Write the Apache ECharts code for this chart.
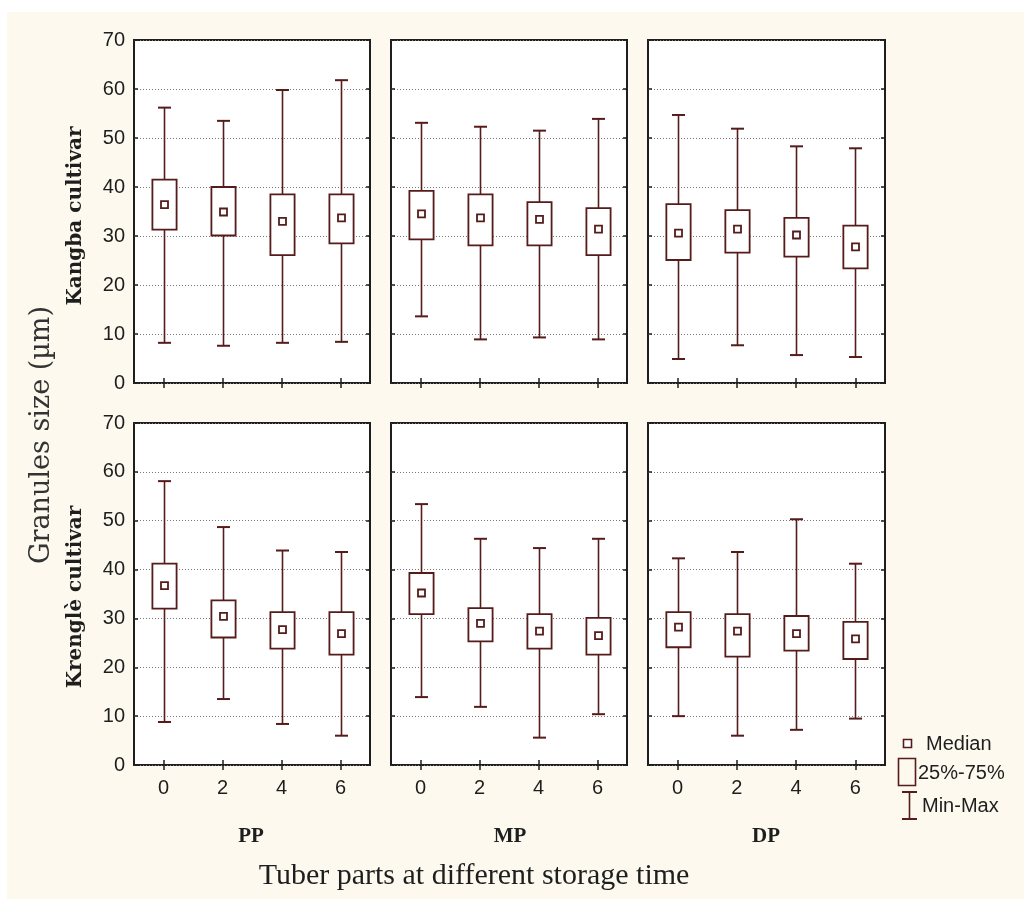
<!DOCTYPE html>
<html>
<head>
<meta charset="utf-8">
<script src="https://cdn.jsdelivr.net/npm/echarts@6/dist/echarts.min.js"></script>
<style>
html,body{margin:0;padding:0;background:#ffffff;}
#chart{width:1024px;height:899px;}
</style>
</head>
<body>
<div id="chart"></div>
<script>
// Storage time categories (x axis tick labels)
const storageTimes = ['0', '2', '4', '6'];
// Y axis ticks
const yMin = 0, yMax = 70, yStep = 10;
// Panel labels
const partLabels = ['PP', 'MP', 'DP'];
const cultivarLabels = ['Kangba cultivar', 'Krenglè cultivar'];
const yTitle = 'Granules size (µm)';
const xTitle = 'Tuber parts at different storage time';
const legendLabels = ['Median', '25%-75%', 'Min-Max'];

// Each row: [min, Q1 (25%), median, Q3 (75%), max] for storage times 0,2,4,6
const kangbaPP = [[8.2, 31.3, 36.4, 41.5, 56.2], [7.6, 30.1, 34.9, 40.0, 53.5], [8.2, 26.1, 33.0, 38.5, 59.8], [8.4, 28.5, 33.7, 38.5, 61.8]];
const kangbaMP = [[13.6, 29.3, 34.5, 39.2, 53.1], [8.9, 28.1, 33.7, 38.5, 52.3], [9.3, 28.1, 33.4, 36.9, 51.5], [8.9, 26.1, 31.4, 35.7, 53.9]];
const kangbaDP = [[4.9, 25.1, 30.6, 36.5, 54.7], [7.7, 26.6, 31.4, 35.3, 51.9], [5.7, 25.8, 30.2, 33.7, 48.3], [5.3, 23.4, 27.8, 32.1, 47.9]];
const krenglePP = [[8.8, 32.0, 36.7, 41.2, 58.1], [13.5, 26.1, 30.4, 33.7, 48.7], [8.4, 23.8, 27.7, 31.3, 43.9], [6.0, 22.6, 26.9, 31.3, 43.6]];
const krengleMP = [[13.9, 30.9, 35.2, 39.3, 53.4], [11.9, 25.3, 29.0, 32.1, 46.3], [5.6, 23.8, 27.4, 30.9, 44.4], [10.4, 22.6, 26.5, 30.1, 46.3]];
const krengleDP = [[10.0, 24.1, 28.2, 31.3, 42.3], [6.0, 22.2, 27.4, 30.9, 43.6], [7.2, 23.4, 26.9, 30.5, 50.3], [9.5, 21.7, 25.8, 29.3, 41.2]];

const panels = [kangbaPP, kangbaMP, kangbaDP, krenglePP, krengleMP, krengleDP];

// ---- styling / layout ----
const BOX_COLOR = '#561b1b';
const FRAME_COLOR = '#1e1e1e';
const TEXT_COLOR = '#1e1e1e';
const CREAM = '#fdf9ee';
const TICK_FONT = '"Liberation Sans", Arial, sans-serif';
const TICK_SIZE = 20;
const colLefts = [134, 391, 648];
const colWidths = [236, 236, 237];
const rowTops = [40, 423];
const rowHeights = [343, 342];

const grids = [], xAxes = [], yAxes = [], series = [];

function renderBox(params, api) {
  const k = api.value(0);
  const pMax = api.coord([k, api.value(5)]);
  const pMin = api.coord([k, api.value(1)]);
  const pQ1 = api.coord([k, api.value(2)]);
  const pMed = api.coord([k, api.value(3)]);
  const pQ3 = api.coord([k, api.value(4)]);
  const band = api.size([1, 0])[0];
  const cx = Math.round(pMax[0]) + 0.5;
  const bw = band * 0.41;
  const cw = band * 0.22;
  const ms = 7;
  const st = { stroke: BOX_COLOR, lineWidth: 1.6, fill: null };
  return {
    type: 'group',
    children: [
      { type: 'line', shape: { x1: cx, y1: pMax[1], x2: cx, y2: pMin[1] }, style: st },
      { type: 'line', shape: { x1: cx - cw / 2, y1: pMax[1], x2: cx + cw / 2, y2: pMax[1] }, style: { stroke: BOX_COLOR, lineWidth: 2 } },
      { type: 'line', shape: { x1: cx - cw / 2, y1: pMin[1], x2: cx + cw / 2, y2: pMin[1] }, style: { stroke: BOX_COLOR, lineWidth: 2 } },
      { type: 'rect', shape: { x: cx - bw / 2, y: pQ3[1], width: bw, height: pQ1[1] - pQ3[1] }, style: { stroke: BOX_COLOR, lineWidth: 1.8, fill: '#ffffff' } },
      { type: 'rect', shape: { x: cx - ms / 2, y: pMed[1] - ms / 2, width: ms, height: ms }, style: { stroke: BOX_COLOR, lineWidth: 1.8, fill: '#ffffff' } }
    ]
  };
}

for (let r = 0; r < 2; r++) {
  for (let c = 0; c < 3; c++) {
    const gi = r * 3 + c;
    grids.push({
      left: colLefts[c], top: rowTops[r], width: colWidths[c], height: rowHeights[r],
      show: true, backgroundColor: '#ffffff', borderColor: FRAME_COLOR, borderWidth: 2
    });
    const xBase = {
      gridIndex: gi, type: 'category', data: storageTimes, boundaryGap: true,
      axisLine: { show: false },
      axisTick: { show: true, inside: true, length: 5, alignWithLabel: true, lineStyle: { color: FRAME_COLOR, width: 1.5 } },
      splitLine: { show: false }
    };
    xAxes.push(Object.assign({}, xBase, {
      position: 'bottom',
      axisLabel: { show: r === 1, color: TEXT_COLOR, fontFamily: TICK_FONT, fontSize: TICK_SIZE, margin: 13 }
    }));
    xAxes.push(Object.assign({}, xBase, { position: 'top', axisLabel: { show: false } }));
    const yBase = {
      gridIndex: gi, type: 'value', min: yMin, max: yMax, interval: yStep,
      axisLine: { show: false },
      axisTick: { show: true, inside: true, length: 4, lineStyle: { color: FRAME_COLOR, width: 1.5 } }
    };
    yAxes.push(Object.assign({}, yBase, {
      position: 'left',
      axisLabel: { show: c === 0, color: TEXT_COLOR, fontFamily: TICK_FONT, fontSize: TICK_SIZE, margin: 9 },
      splitLine: { show: true, lineStyle: { color: '#7a7a7a', type: [1, 2], width: 1 } }
    }));
    yAxes.push(Object.assign({}, yBase, {
      position: 'right', axisLabel: { show: false }, splitLine: { show: false }
    }));
    series.push({
      type: 'custom',
      xAxisIndex: gi * 2, yAxisIndex: gi * 2,
      clip: false,
      renderItem: renderBox,
      encode: { x: 0, y: [1, 2, 3, 4, 5] },
      data: panels[gi].map((d, k) => [k].concat(d))
    });
  }
}

const SERIF = '"Liberation Serif", "Times New Roman", serif';
const WSERIF = '"DejaVu Serif", serif';
const graphic = [
  { type: 'rect', z: -10, silent: true, shape: { x: 7, y: 12, width: 1017, height: 887 }, style: { fill: CREAM } },
  { type: 'text', x: 42, y: 435, rotation: Math.PI / 2, style: { text: yTitle, font: '27px ' + WSERIF, fill: '#333333', align: 'center', verticalAlign: 'middle' } },
  { type: 'text', x: 76, y: 216, rotation: Math.PI / 2, style: { text: cultivarLabels[0], font: 'bold 20px ' + WSERIF, fill: TEXT_COLOR, align: 'center', verticalAlign: 'middle' } },
  { type: 'text', x: 76, y: 597, rotation: Math.PI / 2, style: { text: cultivarLabels[1], font: 'bold 20px ' + WSERIF, fill: TEXT_COLOR, align: 'center', verticalAlign: 'middle' } },
  { type: 'text', x: 251, y: 837, style: { text: partLabels[0], font: 'bold 21px ' + SERIF, fill: TEXT_COLOR, align: 'center', verticalAlign: 'middle' } },
  { type: 'text', x: 510, y: 837, style: { text: partLabels[1], font: 'bold 21px ' + SERIF, fill: TEXT_COLOR, align: 'center', verticalAlign: 'middle' } },
  { type: 'text', x: 766, y: 837, style: { text: partLabels[2], font: 'bold 21px ' + SERIF, fill: TEXT_COLOR, align: 'center', verticalAlign: 'middle' } },
  { type: 'text', x: 474, y: 876, style: { text: xTitle, font: '30px ' + SERIF, fill: TEXT_COLOR, align: 'center', verticalAlign: 'middle' } },
  // legend
  { type: 'rect', shape: { x: 903.5, y: 739.5, width: 8, height: 8 }, style: { stroke: BOX_COLOR, lineWidth: 1.6, fill: '#ffffff' } },
  { type: 'text', x: 926, y: 744, style: { text: legendLabels[0], font: TICK_SIZE + 'px ' + TICK_FONT, fill: TEXT_COLOR, align: 'left', verticalAlign: 'middle' } },
  { type: 'rect', shape: { x: 898.5, y: 758.5, width: 17, height: 27 }, style: { stroke: BOX_COLOR, lineWidth: 1.6, fill: null } },
  { type: 'text', x: 918, y: 773, style: { text: legendLabels[1], font: TICK_SIZE + 'px ' + TICK_FONT, fill: TEXT_COLOR, align: 'left', verticalAlign: 'middle' } },
  { type: 'line', shape: { x1: 909.5, y1: 792, x2: 909.5, y2: 819 }, style: { stroke: BOX_COLOR, lineWidth: 1.6 } },
  { type: 'line', shape: { x1: 902, y1: 792, x2: 917, y2: 792 }, style: { stroke: BOX_COLOR, lineWidth: 2 } },
  { type: 'line', shape: { x1: 902, y1: 819, x2: 917, y2: 819 }, style: { stroke: BOX_COLOR, lineWidth: 2 } },
  { type: 'text', x: 922, y: 806, style: { text: legendLabels[2], font: TICK_SIZE + 'px ' + TICK_FONT, fill: TEXT_COLOR, align: 'left', verticalAlign: 'middle' } }
];

const chart = echarts.init(document.getElementById('chart'), null, { renderer: 'canvas' });
chart.setOption({
  backgroundColor: '#ffffff',
  animation: false,
  grid: grids,
  xAxis: xAxes,
  yAxis: yAxes,
  series: series,
  graphic: graphic
});
</script>
</body>
</html>
